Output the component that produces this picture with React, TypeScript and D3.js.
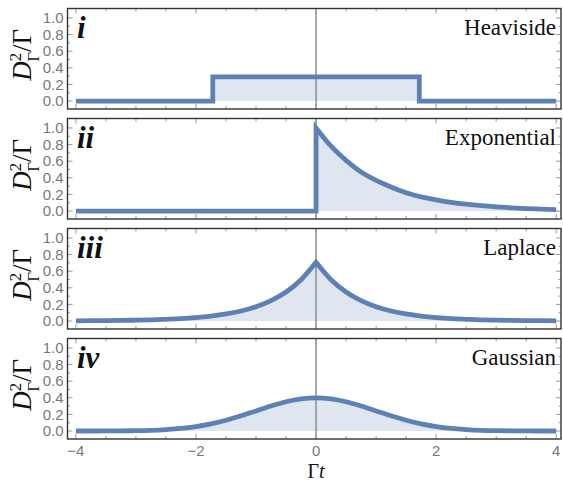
import React from 'react';
import * as d3 from 'd3';

// tick values and labels
const xTickLabels = [-4, -2, 0, 2, 4];
const yTickLabels = [0, 0.2, 0.4, 0.6, 0.8, 1.0];
const panelNumerals = ['i', 'ii', 'iii', 'iv'];
const panelNames = ['Heaviside', 'Exponential', 'Laplace', 'Gaussian'];

// Heaviside (step)
const heavisideX = [-4, -1.72, -1.72, 1.72, 1.72, 4];
const heavisideY = [0, 0, 0.29, 0.29, 0, 0];

// Exponential: flat part + jump, then decay
const expFlatX = [-4, 0, 0];
const expFlatY = [0, 0, 1];
const expDecayX = [0, 0.25, 0.5, 0.75, 1, 1.25, 1.5, 1.75, 2, 2.25, 2.5, 2.75, 3, 3.25, 3.5, 3.75, 4];
const expDecayY = [1, 0.78, 0.61, 0.47, 0.37, 0.29, 0.22, 0.17, 0.135, 0.105, 0.082, 0.064, 0.05, 0.039, 0.03, 0.024, 0.018];

// shared grid for the symmetric curves
const gridX = [
  -4, -3.75, -3.5, -3.25, -3, -2.75, -2.5, -2.25, -2, -1.75, -1.5, -1.25, -1, -0.75, -0.5, -0.25,
  0, 0.25, 0.5, 0.75, 1, 1.25, 1.5, 1.75, 2, 2.25, 2.5, 2.75, 3, 3.25, 3.5, 3.75, 4,
];
const laplaceY = [
  0.0025, 0.004, 0.005, 0.007, 0.01, 0.014, 0.021, 0.029, 0.042, 0.06, 0.085, 0.121, 0.172, 0.245, 0.349, 0.497,
  0.707, 0.497, 0.349, 0.245, 0.172, 0.121, 0.085, 0.06, 0.042, 0.029, 0.021, 0.014, 0.01, 0.007, 0.005, 0.004, 0.0025,
];
const gaussianY = [
  0.0001, 0.0004, 0.0009, 0.002, 0.0044, 0.009, 0.018, 0.032, 0.054, 0.086, 0.13, 0.183, 0.242, 0.301, 0.352, 0.387,
  0.399, 0.387, 0.352, 0.301, 0.242, 0.183, 0.13, 0.086, 0.054, 0.032, 0.018, 0.009, 0.0044, 0.002, 0.0009, 0.0004, 0.0001,
];

type Seg = { xs: number[]; ys: number[]; smooth: boolean; fill: boolean };

const zip = (xs: number[], ys: number[]): [number, number][] => xs.map((x, i) => [x, ys[i]]);

const panels: Seg[][] = [
  [{ xs: heavisideX, ys: heavisideY, smooth: false, fill: true }],
  [
    { xs: expFlatX, ys: expFlatY, smooth: false, fill: false },
    { xs: expDecayX, ys: expDecayY, smooth: true, fill: true },
  ],
  [
    { xs: gridX.slice(0, 17), ys: laplaceY.slice(0, 17), smooth: true, fill: true },
    { xs: gridX.slice(16), ys: laplaceY.slice(16), smooth: true, fill: true },
  ],
  [{ xs: gridX, ys: gaussianY, smooth: true, fill: true }],
];

const W = 563;
const H = 483;
const left = 67.5;
const right = 561;
const panelH = 100.5;
const panelTop = (i: number) => 8.5 + 110 * i;

const lineColor = '#5E81B5';
const serif = '"Liberation Serif", "Times New Roman", Times, serif';
const sans = '"Liberation Sans", Arial, sans-serif';

export default function App() {
  const x = d3.scaleLinear().domain([-4.14, 4.08]).range([left, right]);
  const y = d3.scaleLinear().domain([-0.096, 1.114]).range([panelH, 0]);

  const xMinor = d3.range(-4, 4.01, 0.5);
  const yMinor = d3.range(0, 1.01, 0.1);

  return (
    <svg width={W} height={H} style={{ position: 'absolute', left: 0, top: 0, background: '#fff' }}>
      {panels.map((segs, pi) => {
        const top = panelTop(pi);
        let linePath = '';
        const areas: string[] = [];
        segs.forEach((s) => {
          const curve = s.smooth ? d3.curveMonotoneX : d3.curveLinear;
          const pts = zip(s.xs, s.ys);
          const ln = d3.line<[number, number]>().x((d) => x(d[0])).y((d) => y(d[1])).curve(curve)(pts) || '';
          linePath += linePath ? 'L' + ln.slice(1) : ln;
          if (s.fill) {
            const ar = d3.area<[number, number]>().x((d) => x(d[0])).y0(y(0)).y1((d) => y(d[1])).curve(curve)(pts) || '';
            areas.push(ar);
          }
        });
        return (
          <g key={pi} transform={`translate(0,${top})`}>
            <defs>
              <clipPath id={`clip${pi}`}>
                <rect x={left} y={0} width={right - left} height={panelH} />
              </clipPath>
            </defs>
            <g clipPath={`url(#clip${pi})`}>
              {areas.map((a, ai) => (
                <path key={ai} d={a} fill={lineColor} fillOpacity={0.2} stroke="none" />
              ))}
              <line x1={x(0)} x2={x(0)} y1={0} y2={panelH} stroke="#808080" strokeWidth={1.3} />
              <path d={linePath} fill="none" stroke={lineColor} strokeWidth={4.8} strokeLinejoin="miter" strokeLinecap="butt" />
            </g>
            {/* ticks */}
            {xMinor.map((t) => {
              const major = xTickLabels.includes(t);
              const len = major ? 5 : 3;
              return (
                <g key={'xt' + t} stroke="#999" strokeWidth={1}>
                  <line x1={x(t)} x2={x(t)} y1={panelH} y2={panelH - len} />
                  <line x1={x(t)} x2={x(t)} y1={0} y2={len} />
                </g>
              );
            })}
            {yMinor.map((t, ti) => {
              const major = ti % 2 === 0;
              const len = major ? 5 : 2.5;
              return (
                <g key={'yt' + ti} stroke="#999" strokeWidth={1}>
                  <line x1={left} x2={left + len} y1={y(t)} y2={y(t)} />
                  <line x1={right} x2={right - len} y1={y(t)} y2={y(t)} />
                </g>
              );
            })}
            <rect x={left} y={0} width={right - left} height={panelH} fill="none" stroke="#333" strokeWidth={1.4} />
            {yTickLabels.map((t) => (
              <text key={'yl' + t} x={left - 4} y={y(t)} dy="0.35em" textAnchor="end" fontFamily={sans} fontSize={15} fill="#777">
                {t.toFixed(1)}
              </text>
            ))}
            <text
              transform={`translate(31,${panelH / 2 - 4}) rotate(-90)`}
              textAnchor="middle"
              fontFamily={serif}
              fontSize={27}
              fill="#111"
            >
              <tspan fontStyle="italic">D</tspan>
              <tspan fontSize={17} dy={-10}>2</tspan>
              <tspan fontSize={17} dx={-9} dy={18}>Γ</tspan>
              <tspan dy={-8}>/Γ</tspan>
            </text>
            <text x={77} y={29} fontFamily={serif} fontStyle="italic" fontWeight="bold" fontSize={31} fill="#111">
              {panelNumerals[pi]}
            </text>
            <text x={556} y={26.5} textAnchor="end" fontFamily={serif} fontSize={23} fill="#111">
              {panelNames[pi]}
            </text>
          </g>
        );
      })}
      {xTickLabels.map((t) => (
        <text key={'xl' + t} x={x(t)} y={451} dy="0.35em" textAnchor="middle" fontFamily={sans} fontSize={15} fill="#777">
          {t < 0 ? '\u2212' + Math.abs(t) : String(t)}
        </text>
      ))}
      <text x={x(0)} y={478} textAnchor="middle" fontFamily={serif} fontSize={20} fill="#111">
        Γ<tspan fontStyle="italic">t</tspan>
      </text>
    </svg>
  );
}
